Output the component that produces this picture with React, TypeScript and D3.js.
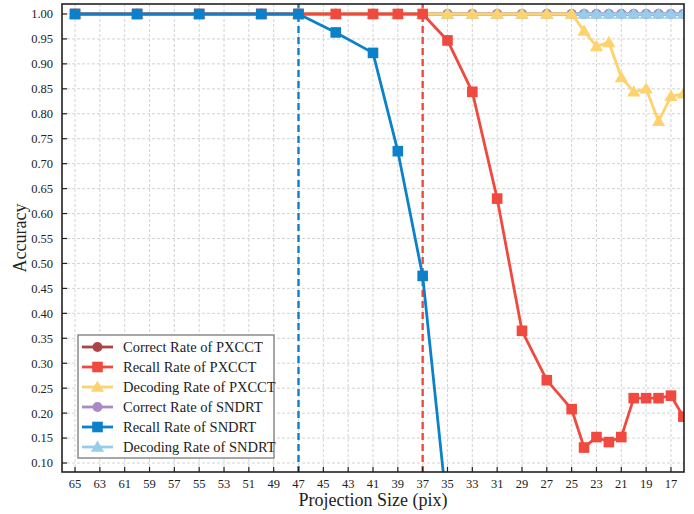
import * as d3 from 'd3'

// projection sizes (pix) where the measurements were taken
const sizes = [65, 60, 55, 50, 47, 44, 41, 39, 37, 35, 33, 31, 29, 27, 25, 24, 23, 22, 21, 20, 19, 18, 17, 16]

const correctPXCCT = [1, 1, 1, 1, 1, 1, 1, 1, 1, 1, 1, 1, 1, 1, 1, 1, 1, 1, 1, 1, 1, 1, 1, 1]
const recallPXCCT = [1, 1, 1, 1, 1, 1, 1, 1, 1, 0.947, 0.844, 0.63, 0.365, 0.266, 0.208, 0.131, 0.152, 0.142, 0.152, 0.23, 0.23, 0.23, 0.235, 0.193]
const decodingPXCCT = [1, 1, 1, 1, 1, 1, 1, 1, 1, 1, 1, 1, 1, 1, 1, 0.966, 0.935, 0.943, 0.873, 0.844, 0.85, 0.785, 0.835, 0.84]
const correctSNDRT = [1, 1, 1, 1, 1, 1, 1, 1, 1, 1, 1, 1, 1, 1, 1, 1, 1, 1, 1, 1, 1, 1, 1, 1]
const recallSNDRT = [1, 1, 1, 1, 1, 0.963, 0.922, 0.725, 0.475, 0, 0, 0, 0, 0, 0, 0, 0, 0, 0, 0, 0, 0, 0, 0]
const decodingSNDRT = [1, 1, 1, 1, 1, 1, 1, 1, 1, 1, 1, 1, 1, 1, 1, 1, 1, 1, 1, 1, 1, 1, 1, 1]

const xTicks = d3.range(65, 16, -2)
const yTicks = d3.range(0.1, 1.0001, 0.05)

// threshold lines
const sndrtLimit = 47
const pxcctLimit = 37

type Series = { name: string; values: number[]; color: string; marker: 'circle' | 'square' | 'triangle' }

const series: Series[] = [
  { name: 'Correct Rate of PXCCT', values: correctPXCCT, color: '#aa4446', marker: 'circle' },
  { name: 'Recall Rate of PXCCT', values: recallPXCCT, color: '#f0493f', marker: 'square' },
  { name: 'Decoding Rate of PXCCT', values: decodingPXCCT, color: '#fed26c', marker: 'triangle' },
  { name: 'Correct Rate of SNDRT', values: correctSNDRT, color: '#aa8ac6', marker: 'circle' },
  { name: 'Recall Rate of SNDRT', values: recallSNDRT, color: '#0c81c9', marker: 'square' },
  { name: 'Decoding Rate of SNDRT', values: decodingSNDRT, color: '#97cdeb', marker: 'triangle' },
]

// draw order: bottom -> top
const drawOrder = [0, 3, 5, 2, 1, 4]

const W = 694
const H = 514
const margin = { top: 4, right: 10, bottom: 42, left: 62 }
const FONT = '"Liberation Serif", "Times New Roman", serif'

function Marker({ type, x, y, color }: { type: string; x: number; y: number; color: string }) {
  if (type === 'circle') return <circle cx={x} cy={y} r={5} fill={color} />
  if (type === 'square') return <rect x={x - 5.3} y={y - 5.3} width={10.6} height={10.6} fill={color} />
  const s = d3.symbol(d3.symbolTriangle, 75)()
  return <path d={s as string} transform={`translate(${x},${y + 1})`} fill={color} />
}

export default function App() {
  const x = d3.scaleLinear().domain([66.05, 15.95]).range([margin.left, W - margin.right])
  const y = d3.scaleLinear().domain([0.082, 1.02]).range([H - margin.bottom, margin.top])
  const x0 = margin.left
  const x1 = W - margin.right
  const y0 = H - margin.bottom
  const y1 = margin.top

  const line = d3.line<number>()
    .x((_, i) => x(sizes[i]))
    .y(d => y(d))

  const legendX = 78
  const legendY = 335

  return (
    <svg width={W} height={H} style={{ position: 'absolute', left: 0, top: 0, background: '#fff' }} fontFamily={FONT}>
      <defs>
        <clipPath id="plot">
          <rect x={x0} y={y1} width={x1 - x0} height={y0 - y1} />
        </clipPath>
      </defs>

      {/* grid */}
      <g stroke="#c8c8c8" strokeWidth={0.8} strokeDasharray="3,2">
        {xTicks.map(t => <line key={'gx' + t} x1={x(t)} x2={x(t)} y1={y1} y2={y0} />)}
        {yTicks.map(t => <line key={'gy' + t} x1={x0} x2={x1} y1={y(t)} y2={y(t)} />)}
      </g>

      {/* threshold lines */}
      <line x1={x(sndrtLimit)} x2={x(sndrtLimit)} y1={y1} y2={y0} stroke="#0c81c9" strokeWidth={2.4} strokeDasharray="7,4" />
      <line x1={x(pxcctLimit)} x2={x(pxcctLimit)} y1={y1} y2={y0} stroke="#f0493f" strokeWidth={2.4} strokeDasharray="7,4" />

      {/* series */}
      <g clipPath="url(#plot)">
        {drawOrder.map(k => {
          const s = series[k]
          return (
            <g key={s.name}>
              <path d={line(s.values) as string} fill="none" stroke={s.color} strokeWidth={2.8} strokeLinejoin="round" />
              {s.values.map((v, i) => <Marker key={i} type={s.marker} x={x(sizes[i])} y={y(v)} color={s.color} />)}
            </g>
          )
        })}
      </g>

      {/* frame and ticks */}
      <rect x={x0} y={y1} width={x1 - x0} height={y0 - y1} fill="none" stroke="#222" strokeWidth={1.6} />
      <g stroke="#222" strokeWidth={1.2}>
        {xTicks.map(t => <line key={'tx' + t} x1={x(t)} x2={x(t)} y1={y0} y2={y0 - 5} />)}
        {yTicks.map(t => <line key={'ty' + t} x1={x0} x2={x0 + 5} y1={y(t)} y2={y(t)} />)}
      </g>
      <g fontSize={12.5} fill="#222">
        {xTicks.map(t => (
          <text key={'lx' + t} x={x(t)} y={y0 + 16} textAnchor="middle">{t}</text>
        ))}
        {yTicks.map(t => (
          <text key={'ly' + t} x={x0 - 9} y={y(t)} dy="0.35em" textAnchor="end">{t.toFixed(2)}</text>
        ))}
      </g>
      <text x={(x0 + x1) / 2} y={506} textAnchor="middle" fontSize={18} fill="#222">Projection Size (pix)</text>
      <text transform={`translate(26,${(y0 + y1) / 2}) rotate(-90)`} textAnchor="middle" fontSize={18} fill="#222">Accuracy</text>

      {/* legend */}
      <g transform={`translate(${legendX},${legendY})`}>
        <rect x={0} y={0} width={196} height={123} fill="#fff" stroke="#8a8a8a" strokeWidth={1.5} />
        {series.map((s, i) => {
          const cy = 12 + i * 20
          return (
            <g key={s.name}>
              <line x1={4} x2={35} y1={cy} y2={cy} stroke={s.color} strokeWidth={2.8} />
              <Marker type={s.marker} x={19.5} y={cy} color={s.color} />
              <text x={45} y={cy} dy="0.35em" fontSize={14.5} fill="#222">{s.name}</text>
            </g>
          )
        })}
      </g>
    </svg>
  )
}
